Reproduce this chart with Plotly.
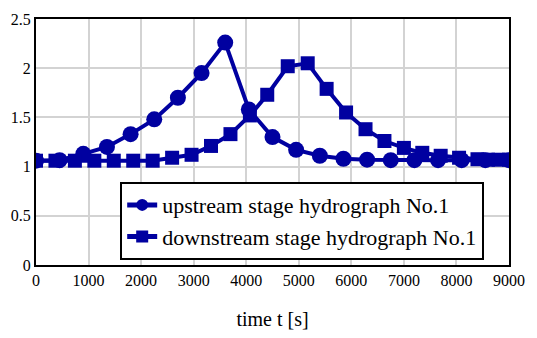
import plotly.graph_objects as go

# upstream stage hydrograph No.1 (circles)
up_t = [0, 450, 900, 1350, 1800, 2250, 2700, 3150, 3600, 4050, 4500, 4950,
        5400, 5850, 6300, 6750, 7200, 7650, 8100, 8550, 9000]
up_h = [1.06, 1.065, 1.13, 1.20, 1.33, 1.48, 1.70, 1.95, 2.26, 1.58, 1.30, 1.17,
        1.11, 1.08, 1.07, 1.065, 1.065, 1.065, 1.065, 1.065, 1.065]

# downstream stage hydrograph No.1 (squares)
dn_t = [0, 370, 740, 1110, 1480, 1850, 2220, 2590, 2960, 3330, 3700, 4070,
        4400, 4790, 5170, 5530, 5900, 6270, 6630, 7000, 7350, 7700, 8050,
        8400, 8600, 8800, 9000]
dn_h = [1.06, 1.06, 1.06, 1.06, 1.06, 1.06, 1.06, 1.09, 1.12, 1.21, 1.33, 1.52,
        1.73, 2.02, 2.05, 1.79, 1.55, 1.38, 1.26, 1.19, 1.14, 1.11, 1.09,
        1.075, 1.07, 1.07, 1.07]

x_ticks = [0, 1000, 2000, 3000, 4000, 5000, 6000, 7000, 8000, 9000]
y_ticks = [0, 0.5, 1, 1.5, 2, 2.5]
y_labels = ["0", "0.5", "1", "1.5", "2", "2.5"]

color = "#0000A0"
font = "Liberation Serif, serif"

fig = go.Figure()
fig.add_trace(go.Scatter(
    x=up_t, y=up_h, mode="lines+markers", name="upstream stage hydrograph No.1",
    line=dict(color=color, width=4),
    marker=dict(symbol="circle", size=16, color=color),
))
fig.add_trace(go.Scatter(
    x=dn_t, y=dn_h, mode="lines+markers", name="downstream stage hydrograph No.1",
    line=dict(color=color, width=4),
    marker=dict(symbol="square", size=14, color=color),
))

fig.update_layout(
    width=537, height=338,
    margin=dict(l=34.5, r=28, t=11, b=71),
    paper_bgcolor="white", plot_bgcolor="white",
    font=dict(family=font, size=16, color="black"),
    showlegend=True,
    legend=dict(
        x=0.178, y=0.02, xanchor="left", yanchor="bottom",
        bordercolor="black", borderwidth=2, bgcolor="white",
        font=dict(family=font, size=22, color="black"),
        tracegroupgap=0, itemwidth=30, itemsizing="constant",
    ),
    xaxis=dict(
        range=[0, 9000], tickvals=x_ticks, ticktext=[str(v) for v in x_ticks],
        showgrid=True, gridcolor="#d3d3d3", gridwidth=1.5,
        showline=True, linecolor="black", linewidth=2, mirror=True,
        zeroline=False, ticks="", tickfont=dict(family=font, size=16, color="black"),
        title=dict(text="time t [s]", font=dict(family=font, size=20, color="black"), standoff=24),
    ),
    yaxis=dict(
        range=[0, 2.5], tickvals=y_ticks, ticktext=y_labels,
        showgrid=True, gridcolor="#d3d3d3", gridwidth=1.5,
        showline=True, linecolor="black", linewidth=2, mirror=True,
        zeroline=False, ticks="", tickfont=dict(family=font, size=16, color="black"),
    ),
)

fig.write_html("out.html")
